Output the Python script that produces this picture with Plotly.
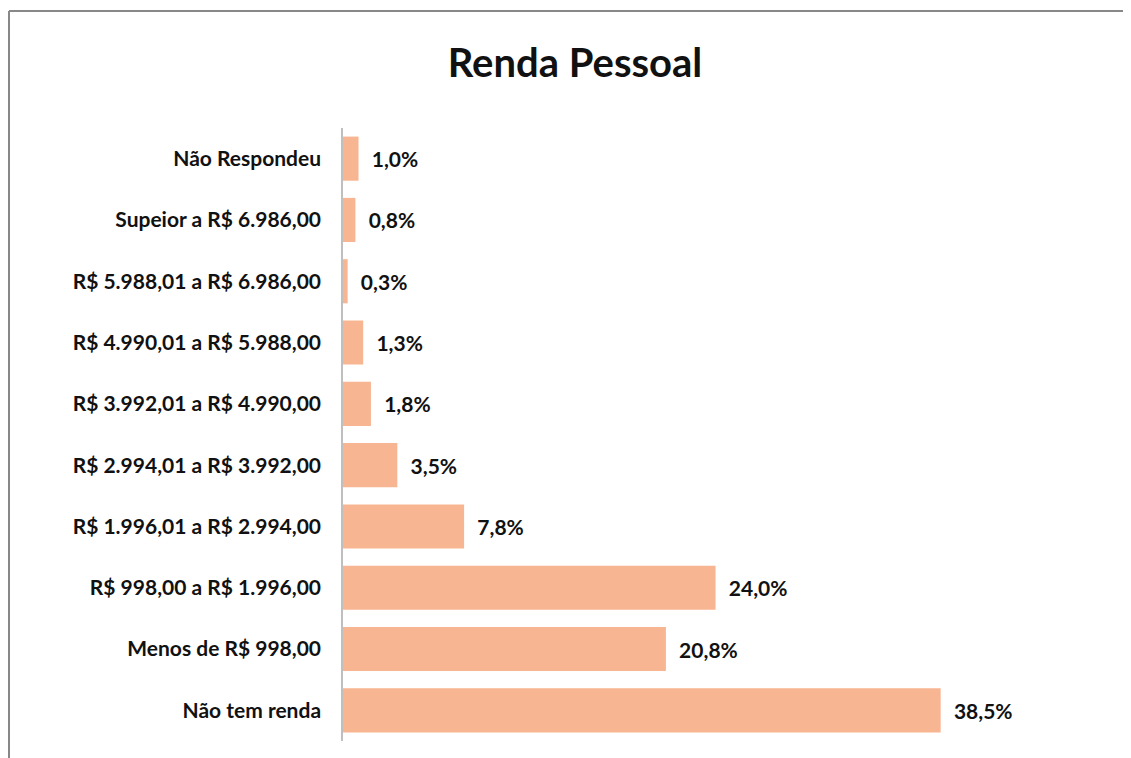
import plotly.graph_objects as go

categories = [
    "Não tem renda",
    "Menos de R$ 998,00",
    "R$ 998,00 a R$ 1.996,00",
    "R$ 1.996,01 a R$ 2.994,00",
    "R$ 2.994,01 a R$ 3.992,00",
    "R$ 3.992,01 a R$ 4.990,00",
    "R$ 4.990,01 a R$ 5.988,00",
    "R$ 5.988,01 a R$ 6.986,00",
    "Supeior a R$ 6.986,00",
    "Não Respondeu",
]
values = [38.5, 20.8, 24.0, 7.8, 3.5, 1.8, 1.3, 0.3, 0.8, 1.0]
labels = ["\u00a0\u00a0" + f"{v:.1f}%".replace(".", ",") for v in values]

W, H = 1131, 758
OFF = 8  # page body margin
L, R, T, B = 343 - OFF, 144, 128 - OFF, 25
pw = W - L - R
ph = H - T - B

fig = go.Figure(go.Bar(
    x=values, y=categories, orientation="h",
    marker=dict(color="#F8B592", line=dict(width=0)),
    text=labels, textposition="outside", cliponaxis=False,
    textfont=dict(family="Lato", size=21, color="#111111", weight="bold"),
    width=0.72,
))

fig.update_layout(
    width=W, height=H,
    margin=dict(l=L, r=R, t=T, b=B),
    paper_bgcolor="white", plot_bgcolor="white",
    title=dict(text="Renda Pessoal", x=(575 - OFF) / W, xref="container", xanchor="center",
               y=1 - (63 - OFF) / H, yref="container", yanchor="middle",
               font=dict(family="Lato", size=40, color="#111111", weight="bold")),
    showlegend=False,
    xaxis=dict(range=[0, 42], visible=False, fixedrange=True),
    yaxis=dict(showline=True, linecolor="#BFBFBF", linewidth=1.5,
               showgrid=False, ticks="", ticklabelstandoff=16,
               tickfont=dict(family="Lato", size=21, color="#111111", weight="bold"),
               range=[-0.5, 9.5]),
    shapes=[
        dict(type="line", xref="paper", yref="paper",
             x0=(1 - L) / pw, x1=(1 - L) / pw, y0=(H - B - 3) / ph, y1=(H - B - 770) / ph,
             line=dict(color="#888888", width=2)),
        dict(type="line", xref="paper", yref="paper",
             x0=(1 - L) / pw, x1=(1135 - L) / pw, y0=(H - B - 3) / ph, y1=(H - B - 3) / ph,
             line=dict(color="#888888", width=2)),
    ],
)

fig.write_html("out.html")
